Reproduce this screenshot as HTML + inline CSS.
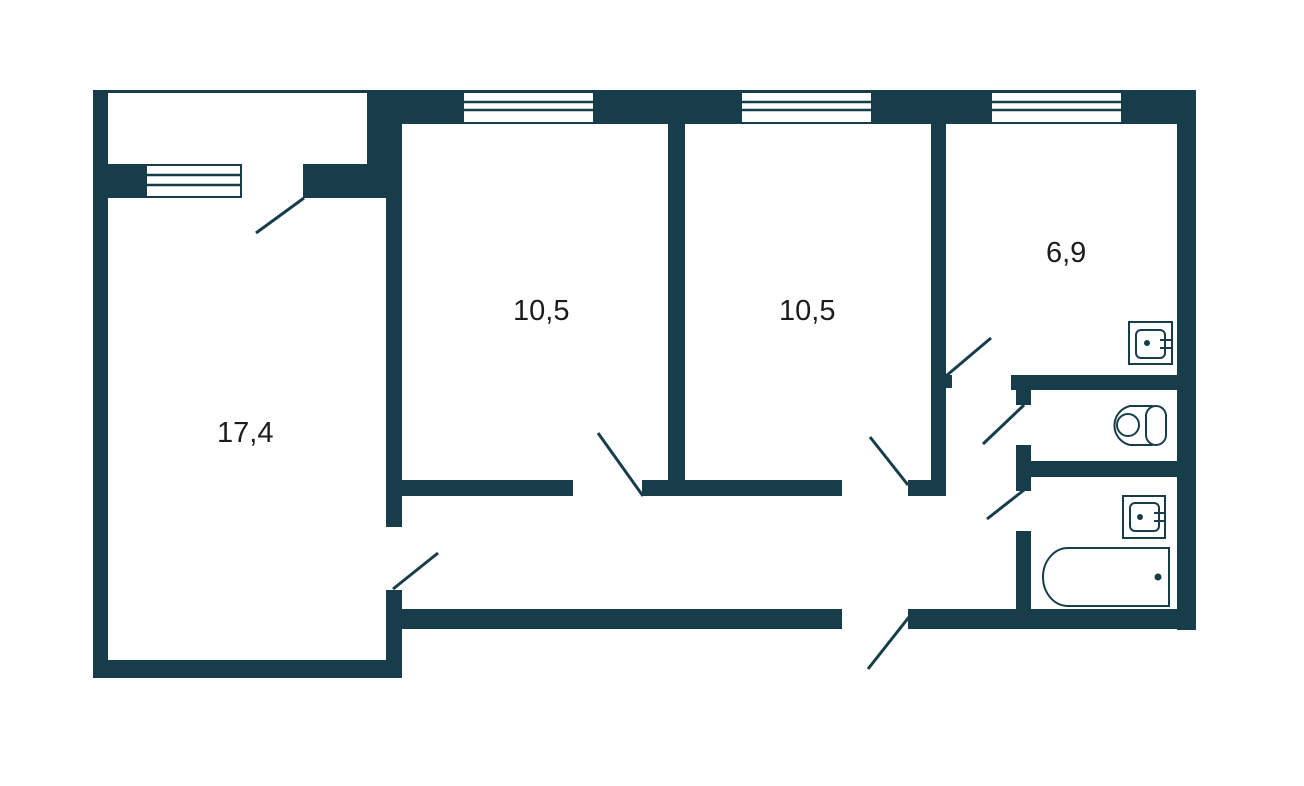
<!DOCTYPE html>
<html><head><meta charset="utf-8"><style>
html,body{margin:0;padding:0;background:#fff;}
svg{display:block}
text{font-family:"Liberation Sans",sans-serif;font-size:29px;fill:#1c1c1c}
</style></head><body>
<svg width="1304" height="786" viewBox="0 0 1304 786" xmlns="http://www.w3.org/2000/svg">
<g fill="#173d4b">
<rect x="93" y="90" width="280" height="3"/>
<rect x="93" y="90" width="15" height="588"/>
<rect x="93" y="660" width="309" height="18"/>
<rect x="93" y="164" width="53" height="34"/>
<rect x="303" y="164" width="99" height="34"/>
<rect x="367" y="90" width="35" height="108"/>
<rect x="367" y="90" width="829" height="34"/>
<rect x="1177" y="90" width="19" height="540"/>
<rect x="386" y="124" width="16" height="403"/>
<rect x="386" y="590" width="16" height="88"/>
<rect x="668" y="124" width="17" height="372"/>
<rect x="402" y="480" width="171" height="16"/>
<rect x="642" y="480" width="200" height="16"/>
<rect x="908" y="480" width="38" height="16"/>
<rect x="931" y="124" width="15" height="372"/>
<rect x="946" y="375" width="6" height="13"/>
<rect x="402" y="609" width="440" height="20"/>
<rect x="908" y="609" width="288" height="20"/>
<rect x="1011" y="375" width="166" height="15"/>
<rect x="1016" y="375" width="15" height="30"/>
<rect x="1031" y="461" width="146" height="16"/>
<rect x="1016" y="445" width="15" height="46"/>
<rect x="1016" y="531" width="15" height="80"/>
</g>
<g fill="#fff" stroke="#173d4b" stroke-width="2">
<rect x="146" y="165" width="95" height="32" fill="#fff"/>
<rect x="463" y="92" width="131" height="31"/>
<rect x="741" y="92" width="131" height="31"/>
<rect x="991" y="92" width="131" height="31"/>
</g>
<g stroke="#173d4b" stroke-width="2.5">
<line x1="146" y1="175" x2="241" y2="175"/><line x1="146" y1="185" x2="241" y2="185"/>
<line x1="463" y1="102" x2="594" y2="102"/><line x1="463" y1="110" x2="594" y2="110"/>
<line x1="741" y1="102" x2="872" y2="102"/><line x1="741" y1="110" x2="872" y2="110"/>
<line x1="991" y1="102" x2="1122" y2="102"/><line x1="991" y1="110" x2="1122" y2="110"/>
</g>
<g stroke="#173d4b" stroke-width="3">
<line x1="304" y1="198" x2="256" y2="233"/>
<line x1="393" y1="589" x2="438" y2="553"/>
<line x1="643" y1="496" x2="598" y2="433"/>
<line x1="908" y1="485" x2="870" y2="437"/>
<line x1="946" y1="376" x2="991" y2="338"/>
<line x1="1024" y1="405" x2="983" y2="444"/>
<line x1="1024" y1="490" x2="987" y2="519"/>
<line x1="909" y1="617" x2="868" y2="669"/>
</g>
<g fill="none" stroke="#173d4b" stroke-width="2">
<rect x="1129" y="322" width="43" height="42"/>
<rect x="1136" y="330" width="29" height="28" rx="5"/>
<line x1="1160" y1="340" x2="1172" y2="340"/><line x1="1160" y1="348" x2="1172" y2="348"/>
<rect x="1123" y="496" width="42" height="42"/>
<rect x="1130" y="503" width="29" height="28" rx="5"/>
<line x1="1154" y1="513" x2="1165" y2="513"/><line x1="1154" y1="521" x2="1165" y2="521"/>
<path d="M1153 406 H1130 A20 20 0 0 0 1130 445 H1153"/>
<circle cx="1128" cy="425" r="11"/>
<rect x="1146" y="406" width="20" height="39" rx="10"/>
<path d="M1169 548 H1068 A25 29 0 0 0 1068 606 H1169 Z"/>
</g>
<g fill="#173d4b">
<circle cx="1147" cy="343" r="3"/>
<circle cx="1140" cy="517" r="3"/>
<circle cx="1158" cy="577" r="3.5"/>
</g>
<text x="217" y="442">17,4</text>
<text x="513" y="320">10,5</text>
<text x="779" y="320">10,5</text>
<text x="1046" y="262">6,9</text>
</svg>
</body></html>
